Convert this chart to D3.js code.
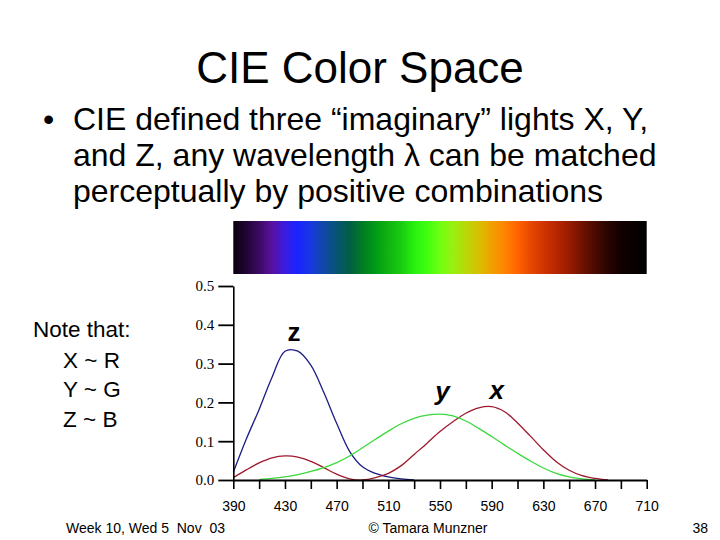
<!DOCTYPE html>
<html>
<head>
<meta charset="utf-8">
<script src="https://cdn.jsdelivr.net/npm/d3@7"></script>
<style>
  html, body { margin: 0; padding: 0; background: #ffffff; }
  svg { display: block; }
  text { white-space: pre; }
</style>
</head>
<body>
<svg id="chart" width="720" height="540"></svg>
<script>
// ---- Data ----
const wavelengths = [390,400,410,420,430,440,450,460,470,480,490,500,510,520,530,540,550,560,570,580,590,600,610,620,630,640,650,660,670,680];
const zValues = [0.020,0.105,0.182,0.265,0.332,0.332,0.296,0.226,0.146,0.074,0.034,0.017,0.008,0.003,0.000,null,null,null,null,null,null,null,null,null,null,null,null,null,null,null];
const xValues = [0.006,0.026,0.044,0.057,0.062,0.059,0.048,0.032,0.015,0.003,0.000,0.006,0.017,0.037,0.066,0.095,0.125,0.150,0.172,0.186,0.189,0.176,0.147,0.113,0.078,0.047,0.025,0.011,0.004,0.000];
const yValues = [null,null,0.001,0.004,0.008,0.014,0.022,0.032,0.045,0.062,0.083,0.105,0.126,0.145,0.159,0.167,0.170,0.165,0.152,0.133,0.112,0.090,0.069,0.049,0.031,0.017,0.008,0.003,0.000,null];
const xTickValues = [390,410,430,450,470,490,510,530,550,570,590,610,630,650,670,690,710];
const xTickLabels = [390,430,470,510,550,590,630,670,710];
const yTickValues = [0.0,0.1,0.2,0.3,0.4,0.5];
const spectrumWavelengths = [390,400,410,420,430,440,450,460,470,480,490,500,510,520,530,540,550,560,570,580,590,600,610,620,630,640,650,660,670,680,690,700,710];
const spectrumColors = ["#0a0010","#200634","#3c0a62","#5a10a0","#3a1ce0","#1a24ff","#1838e0","#1048a8","#085474","#005e44","#007c24","#009a16","#10b410","#18cc10","#28f010","#40ff10","#70ff10","#98f010","#b8d808","#d8c000","#f0a000","#ff8400","#ff6400","#e84800","#d03400","#b82600","#981c00","#701200","#4a0a00","#280400","#120000","#080000","#000000"];

const titleText = "CIE Color Space";
const bulletLines = ["CIE defined three \u201Cimaginary\u201D lights X, Y,", "and Z, any wavelength \u03BB can be matched", "perceptually by positive combinations"];
const noteLines = ["Note that:", "X ~ R", "Y ~ G", "Z ~ B"];
const footer = {left: "Week 10, Wed 5  Nov  03", center: "\u00A9 Tamara Munzner", right: "38"};

// ---- Drawing ----
const svg = d3.select("#chart");
const sans = "'Liberation Sans', Arial, sans-serif";
const serif = "'Liberation Serif', 'Times New Roman', serif";

svg.append("rect").attr("width", 720).attr("height", 540).attr("fill", "#fff");

// Title
svg.append("text").attr("x", 360).attr("y", 83).attr("text-anchor", "middle")
  .attr("font-family", sans).attr("font-size", 44).attr("fill", "#000").text(titleText);

// Bullet
svg.append("text").attr("x", 43).attr("y", 130).attr("font-family", sans).attr("font-size", 32).text("\u2022");
svg.selectAll("text.bl").data(bulletLines).enter().append("text").attr("class", "bl")
  .attr("x", 73).attr("y", (d, i) => 130 + i * 36)
  .attr("font-family", sans).attr("font-size", 32).attr("fill", "#000").text(d => d);

// Note
svg.selectAll("text.nt").data(noteLines).enter().append("text").attr("class", "nt")
  .attr("x", (d, i) => i === 0 ? 33 : 63)
  .attr("y", (d, i) => i === 0 ? 337 : 368 + (i - 1) * 29.3)
  .attr("font-family", sans).attr("font-size", 22.5).attr("fill", "#000").text(d => d);

// Scales
const x = d3.scaleLinear().domain([390, 710]).range([233.3, 646.7]);
const y = d3.scaleLinear().domain([0, 0.5]).range([480, 286]);

// Spectrum bar
const defs = svg.append("defs");
const grad = defs.append("linearGradient").attr("id", "spec")
  .attr("gradientUnits", "userSpaceOnUse")
  .attr("x1", x(390)).attr("x2", x(710)).attr("y1", 0).attr("y2", 0);
grad.selectAll("stop").data(spectrumWavelengths).enter().append("stop")
  .attr("offset", d => (d - 390) / 320)
  .attr("stop-color", (d, i) => spectrumColors[i]);
svg.append("rect").attr("x", x(390)).attr("y", 221).attr("width", x(710) - x(390)).attr("height", 53)
  .attr("fill", "url(#spec)");

// Curves
const series = [
  {vals: zValues, color: "#1c1c86"},
  {vals: xValues, color: "#9e1a2c"},
  {vals: yValues, color: "#3cd83c"}
];
const line = d3.line()
  .defined(d => d[1] !== null)
  .x(d => x(d[0])).y(d => y(d[1]))
  .curve(d3.curveCatmullRom.alpha(0.5));
series.forEach(s => {
  svg.append("path")
    .datum(wavelengths.map((w, i) => [w, s.vals[i]]))
    .attr("d", line).attr("fill", "none")
    .attr("stroke", s.color).attr("stroke-width", 1.3);
});

// Axes
const xAxis = d3.axisBottom(x).tickValues(xTickValues)
  .tickFormat(d => xTickLabels.includes(d) ? d : "")
  .tickSize(9).tickSizeOuter(0).tickPadding(12);
const gx = svg.append("g").attr("transform", "translate(0,480)").call(xAxis);
gx.select(".domain").attr("stroke", "#000").attr("stroke-width", 2);
gx.selectAll(".tick line").attr("stroke", "#000").attr("stroke-width", 1.6);
gx.selectAll(".tick text").attr("font-family", sans).attr("font-size", 14).attr("fill", "#000");

const yAxis = d3.axisLeft(y).tickValues(yTickValues).tickFormat(d3.format(".1f"))
  .tickSize(15).tickSizeOuter(0).tickPadding(4);
const gy = svg.append("g").attr("transform", "translate(233.3,0)").call(yAxis);
gy.select(".domain").attr("stroke", "#000").attr("stroke-width", 1.6);
gy.selectAll(".tick line").attr("stroke", "#000").attr("stroke-width", 1.8);
gy.selectAll(".tick text").attr("font-family", serif).attr("font-size", 15).attr("fill", "#000");

// Curve labels
const curveLabels = [
  {t: "z", nm: 437, v: 0.358, italic: false},
  {t: "y", nm: 552, v: 0.206, italic: true},
  {t: "x", nm: 594, v: 0.210, italic: true}
];
svg.selectAll("text.cl").data(curveLabels).enter().append("text").attr("class", "cl")
  .attr("x", d => x(d.nm)).attr("y", d => y(d.v)).attr("text-anchor", "middle")
  .attr("font-family", sans).attr("font-size", 26).attr("font-weight", "bold")
  .attr("font-style", d => d.italic ? "italic" : "normal").attr("fill", "#000")
  .text(d => d.t);

// Footer
svg.append("text").attr("x", 66).attr("y", 533).attr("font-family", sans).attr("font-size", 14).text(footer.left);
svg.append("text").attr("x", 428).attr("y", 533).attr("text-anchor", "middle").attr("font-family", sans).attr("font-size", 14).text(footer.center);
svg.append("text").attr("x", 708).attr("y", 533).attr("text-anchor", "end").attr("font-family", sans).attr("font-size", 14).text(footer.right);
</script>
</body>
</html>
